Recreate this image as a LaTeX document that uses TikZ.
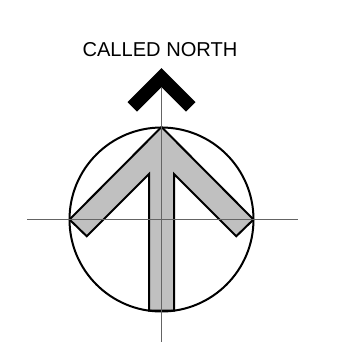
\documentclass[tikz,border=0pt]{standalone}
\usepackage{fontspec}
\setmainfont{Liberation Sans}
\usetikzlibrary{positioning}
\definecolor{arrowgray}{RGB}{192,192,192}
\definecolor{axisgray}{RGB}{100,100,100}
\begin{document}
\begin{tikzpicture}[x=1pt,y=-1pt]
        \useasboundingbox (0,0) rectangle (347,346);
        \coordinate (c) at (161.5,219.5);
        \coordinate (apex) at (161.5,127);
        \node[inner sep=0pt] (label) at (160,49.5) {\fontsize{20.1}{24}\selectfont CALLED NORTH};
        % called north chevron
        \fill[black] (161.5,68) -- (195.5,102) -- (186,111.5) -- (161.5,87) -- (137,111.5) -- (127.5,102) -- cycle;
        \coordinate (chev) at (161.5,87);
        % grey arrow
        \filldraw[fill=arrowgray, line width=2pt, line join=miter] (apex) -- (253.5,219.5) -- (236.25,236.25) -- (174,174) -- (174,310.6) -- (149,310.6) -- (149,174) -- (86.75,236.25) -- (69.5,219.5) -- cycle;
        \draw[line width=2pt] (c) circle (92);
        % axes
        \draw[axisgray, line width=1.5pt] (27,219.5) -- (298,219.5);
        \draw[axisgray, line width=1.5pt] (chev) -- (161.5,342);
\end{tikzpicture}
\end{document}
